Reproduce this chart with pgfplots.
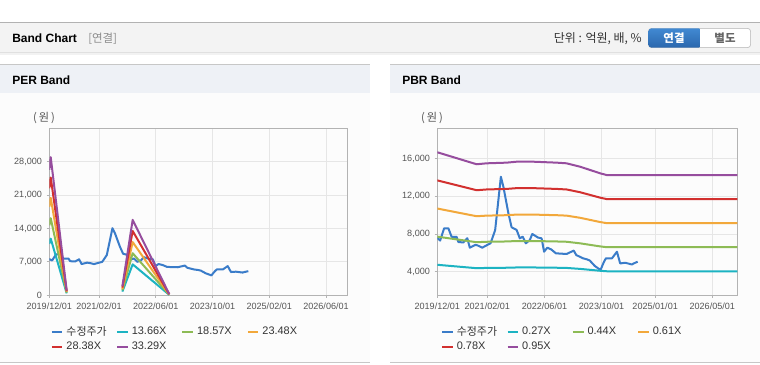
\documentclass[border=0pt]{standalone}
\usepackage{fontspec}
\setmainfont{Liberation Sans}
\newfontfamily\kr{Noto Sans CJK KR}
\usepackage{pgfplots}
\pgfplotsset{compat=1.18}
\definecolor{cPrice}{HTML}{3A7CC9}
\definecolor{cA}{HTML}{1CB3C2}
\definecolor{cB}{HTML}{8DBB55}
\definecolor{cC}{HTML}{F2A83B}
\definecolor{cD}{HTML}{D2302F}
\definecolor{cE}{HTML}{964D9E}
\definecolor{gridc}{HTML}{E6E6E6}
\definecolor{axisc}{HTML}{B3B3B3}
\definecolor{tickc}{HTML}{555555}
\definecolor{hdr}{HTML}{F3F3F3}
\definecolor{phdr}{HTML}{EEF1F6}
\definecolor{pbody}{HTML}{FCFCFC}
\definecolor{btnA}{HTML}{4189D2}
\definecolor{btnB}{HTML}{2B67AD}
\pgfplotsset{bandaxis/.style={
  scale only axis, anchor=south west,
  width=223.5pt, height=125.25pt,
  xmin=0, xmax=84,
  axis line style={axisc, line width=0.8pt},
  grid=major, major grid style={gridc, line width=0.7pt},
  tick style={axisc, line width=0.7pt}, tick align=outside, major tick length=2pt,
  xtick pos=bottom, ytick pos=left,
  scaled y ticks=false,
  ticklabel style={font=\fontsize{6.8}{8}\selectfont, text=tickc},
  /pgf/number format/assume math mode=true,
  /pgf/number format/1000 sep={,},
  unbounded coords=jump,
  every axis plot/.append style={line width=1.5pt, line join=round},
  legend columns=4,
  legend cell align=left,
  legend style={draw=none, fill=none, font=\fontsize{8.2}{9}\selectfont, text=black!80,
    anchor=north west, inner sep=0pt, row sep=-0.6pt, column sep=0pt,
    /tikz/every odd column/.append style={column sep=0pt}},
  legend image code/.code={\draw[#1, line width=2pt] (0pt,0pt) -- (8pt,0pt);},
}}
\begin{document}
\begin{tikzpicture}
\useasboundingbox (0,0) rectangle (570pt,-273pt);
\begin{scope}[x=0.75pt,y=-0.75pt]
\fill[white] (0,0) rectangle (760,364);
% header bar
\fill[black!12] (0,51.5) rectangle (760,53);
\fill[black!5] (0,53) rectangle (760,54.5);
\fill[hdr] (0,22.5) rectangle (760,51.7);
\draw[black!30, line width=0.8pt] (0,22.4) -- (760,22.4);
\node[anchor=west, inner sep=0pt, font=\fontsize{9}{10}\selectfont\bfseries] at (12,38.5) {Band Chart};
\node[anchor=west, inner sep=0pt, font=\kr\fontsize{8.6}{10}\selectfont, text=black!45] at (88,38.5) {[연결]};
\node[anchor=east, inner sep=0pt, font=\kr\fontsize{9}{10}\selectfont, text=black!80] at (642,38.5) {단위 : 억원, 배, \%};
\draw[black!30, fill=white, rounded corners=2.5] (648.3,28.3) rectangle (750.7,47.7);
\begin{scope}
\clip (647,27) rectangle (699.3,49);
\shade[top color=btnA, bottom color=btnB, rounded corners=2.5] (648.3,28.3) rectangle (712,47.7);
\end{scope}
\node[inner sep=0pt, font=\kr\fontsize{8.6}{10}\selectfont\bfseries, text=white] at (674,38.3) {연결};
\node[inner sep=0pt, font=\kr\fontsize{8.6}{10}\selectfont\bfseries, text=black!60] at (725,38.3) {별도};
% panels
\foreach \xa/\xb in {0/370, 390/760}{
  \fill[phdr] (\xa,64.5) rectangle (\xb,92.7);
  \draw[black!22, line width=0.8pt] (\xa,64.4) -- (\xb,64.4);
  \fill[pbody] (\xa,92.7) rectangle (\xb,362);
  \draw[black!22, line width=0.8pt] (\xa,362.5) -- (\xb,362.5);
}
\node[anchor=west, inner sep=0pt, font=\fontsize{9}{10}\selectfont\bfseries] at (12,80) {PER Band};
\node[anchor=west, inner sep=0pt, font=\fontsize{9}{10}\selectfont\bfseries] at (402,80) {PBR Band};
\node[inner sep=0pt, font=\kr\fontsize{8.4}{9}\selectfont, text=tickc] at (44,118) {(\,원\,)};
\node[inner sep=0pt, font=\kr\fontsize{8.4}{9}\selectfont, text=tickc] at (432,118) {(\,원\,)};
\end{scope}

% ---------------- PER Band ----------------
\begin{axis}[bandaxis, at={(36.98pt,-221.48pt)},
  ymin=0, ymax=35000, ytick={0,7000,14000,21000,28000},
  xtick={0,14,30,46,62,78},
  xticklabels={2019/12/01,2021/02/01,2022/06/01,2023/10/01,2025/02/01,2026/06/01},
  legend style={at={(0.003,-0.17)}}]
\addplot[cPrice] coordinates {(0,7600)(0.8,7300)(1.9,8600)(3.1,8600)(4,7700)(5.4,7700)(5.9,7150)(7.3,7100)(8.4,7550)(9.1,6550)(10.6,6840)(11.2,6800)(12.6,6550)(14,6840)(14.9,7010)(15.4,7540)(16.2,8420)(16.9,10890)(17.8,14070)(18.5,13010)(19.9,10200)(20.8,8710)(22.2,8430)(23.1,7540)(23.9,7710)(24.8,7010)(25.9,7360)(26.6,8000)(28.2,7620)(29.2,7540)(29.9,6120)(30.8,6550)(31.9,6360)(33.2,5950)(36.2,5880)(38.2,6240)(38.9,5770)(40.8,5420)(42,5300)(42.7,5180)(44.1,4610)(45.7,4180)(46.6,5000)(47.2,5420)(48.9,5420)(50.3,6120)(51.2,4880)(52.6,4950)(54.5,4770)(55,4880)(56.1,5060)};
\addlegendentry{\makebox[35pt][l]{\kr 수정주가}}
\addplot[cA] coordinates {(0,10791)(0.4,11884)(4.9,410)(10,nan)(20.6,779)(23.5,6489)(33.8,109)};
\addlegendentry{\makebox[35pt][l]{13.66X}}
\addplot[cB] coordinates {(0,14670)(0.4,16156)(4.9,557)(10,nan)(20.6,1058)(23.5,8821)(33.8,149)};
\addlegendentry{\makebox[35pt][l]{18.57X}}
\addplot[cC] coordinates {(0,18549)(0.4,20428)(4.9,704)(10,nan)(20.6,1338)(23.5,11153)(33.8,188)};
\addlegendentry{\makebox[35pt][l]{23.48X}}
\addplot[cD] coordinates {(0,22420)(0.4,24691)(4.9,851)(10,nan)(20.6,1618)(23.5,13481)(33.8,227)};
\addlegendentry{\makebox[35pt][l]{28.38X}}
\addplot[cE] coordinates {(0,26299)(0.4,28962)(4.9,999)(10,nan)(20.6,1898)(23.5,15813)(33.8,266)};
\addlegendentry{\makebox[35pt][l]{33.29X}}
\end{axis}

% ---------------- PBR Band ----------------
\begin{axis}[bandaxis, at={(327.98pt,-221.48pt)}, width=225pt,
  ymin=1500, ymax=19200, ytick={4000,8000,12000,16000},
  xtick={0,14,30,46,61,77},
  xticklabels={2019/12/01,2021/02/01,2022/06/01,2023/10/01,2025/01/01,2026/05/01},
  legend style={at={(0.011,-0.17)}}]
\addplot[cPrice] coordinates {(0,7600)(0.8,7300)(1.9,8600)(3.1,8600)(4,7700)(5.4,7700)(5.9,7150)(7.3,7100)(8.4,7550)(9.1,6550)(10.6,6840)(11.2,6800)(12.6,6550)(14,6840)(14.9,7010)(15.4,7540)(16.2,8420)(16.9,10890)(17.8,14070)(18.5,13010)(19.9,10200)(20.8,8710)(22.2,8430)(23.1,7540)(23.9,7710)(24.8,7010)(25.9,7360)(26.6,8000)(28.2,7620)(29.2,7540)(29.9,6120)(30.8,6550)(31.9,6360)(33.2,5950)(36.2,5880)(38.2,6240)(38.9,5770)(40.8,5420)(42,5300)(42.7,5180)(44.1,4610)(45.7,4180)(46.6,5000)(47.2,5420)(48.9,5420)(50.3,6120)(51.2,4880)(52.6,4950)(54.5,4770)(55,4880)(56.1,5060)};
\addlegendentry{\makebox[35pt][l]{\kr 수정주가}}
\addplot[cA] coordinates {(0,4735)(11,4374)(13.8,4402)(19.4,4422)(22.2,4451)(26.9,4451)(33.4,4422)(36.2,4402)(40,4300)(45.6,4101)(47.4,4050)(84,4050)};
\addlegendentry{\makebox[35pt][l]{0.27X}}
\addplot[cB] coordinates {(0,7717)(11,7129)(13.8,7175)(19.4,7207)(22.2,7254)(26.9,7254)(33.4,7207)(36.2,7175)(40,7008)(45.6,6684)(47.4,6601)(84,6601)};
\addlegendentry{\makebox[35pt][l]{0.44X}}
\addplot[cC] coordinates {(0,10697)(11,9882)(13.8,9946)(19.4,9991)(22.2,10055)(26.9,10055)(33.4,9991)(36.2,9946)(40,9715)(45.6,9265)(47.4,9150)(84,9150)};
\addlegendentry{\makebox[35pt][l]{0.61X}}
\addplot[cD] coordinates {(0,13680)(11,12637)(13.8,12719)(19.4,12776)(22.2,12858)(26.9,12858)(33.4,12776)(36.2,12719)(40,12423)(45.6,11849)(47.4,11701)(84,11701)};
\addlegendentry{\makebox[35pt][l]{0.78X}}
\addplot[cE] coordinates {(0,16660)(11,15390)(13.8,15490)(19.4,15560)(22.2,15660)(26.9,15660)(33.4,15560)(36.2,15490)(40,15130)(45.6,14430)(47.4,14250)(84,14250)};
\addlegendentry{\makebox[35pt][l]{0.95X}}
\end{axis}
\end{tikzpicture}
\end{document}
